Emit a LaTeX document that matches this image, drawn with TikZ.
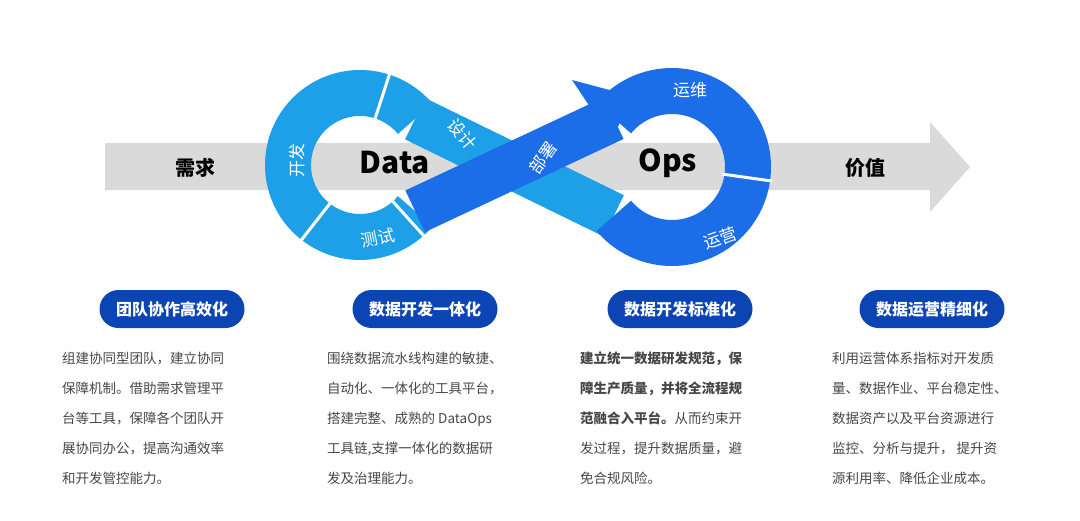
\documentclass[tikz,border=0pt]{standalone}
\usepackage{fontspec}
\setmainfont{Noto Sans CJK SC}
\usetikzlibrary{positioning}
\definecolor{lightring}{RGB}{30,160,232}
\definecolor{darkring}{RGB}{28,110,232}
\definecolor{pillblue}{RGB}{12,68,180}
\definecolor{bodygray}{RGB}{70,70,70}
\definecolor{bandgray}{RGB}{218,218,218}
\tikzset{%
	ring label/.style={text=white, font=\fontsize{17}{17}\selectfont},
	pill/.style={
		rounded corners=19pt,
		fill=pillblue,
		text=white,
		minimum width=145pt,
		minimum height=38pt,
		font=\fontsize{16}{16}\selectfont\bfseries
	},
	body text/.style={
		anchor=north west,
		align=left,
		text=bodygray,
		inner sep=0pt,
		font=\fontsize{13.5}{30}\selectfont
	},
	separator/.style={white, line width=3pt},
}
\begin{document}
\begin{tikzpicture}[x=1pt, y=-1pt]
			\useasboundingbox (0,0) rectangle (1080,520);
			
			% flow band
			\fill [bandgray] (105,143) -- (930,143) -- (930,122) -- (970,167)
			-- (930,212) -- (930,190) -- (105,190) -- cycle;
			\node [font=\fontsize{20}{20}\selectfont\bfseries] (need) at (195,168) {需求};
			\node [font=\fontsize{20}{20}\selectfont\bfseries] (value) at (865,168) {价值};
			
			% infinity loop (angles mirrored, y runs down)
			\coordinate (dc) at (360,165);
			\coordinate (oc) at (672,167);
			\draw [lightring, line width=46pt] ([shift={(-40:72)}]dc) -- ([shift={(140:76)}]oc);
			\draw [lightring, line width=46pt] ([shift={(-40:72)}]dc) arc [start angle=-40, end angle=-320, radius=72];
			\draw [darkring, line width=46pt] ([shift={(-140:76)}]oc) arc [start angle=-140, end angle=140, radius=76];
			\draw [darkring, line width=46pt] ([shift={(40:72)}]dc) -- ([shift={(-140:76)}]oc);
			\fill [darkring] (572,80) -- (632,96) -- (612,140) -- cycle;
			
			% segment gaps
			\foreach \a in {72,232,312}
			\draw [separator] ([shift={(-\a:47)}]dc) -- ([shift={(-\a:97)}]dc);
			\foreach \a in {-8}
			\draw [separator] ([shift={(-\a:51)}]oc) -- ([shift={(-\a:101)}]oc);
			
			\node [font=\fontsize{30}{30}\selectfont\bfseries] (data) at (395,163) {Data};
			\node [font=\fontsize{30}{30}\selectfont\bfseries] (ops) at (668,163) {Ops};
			
			\node [ring label, rotate=90] (dev) at (297,160) {开发};
			\node [ring label, rotate=-50] (design) at (462,134) {设计};
			\node [ring label, rotate=12] (test) at (378,238) {测试};
			\node [ring label, rotate=55] (deploy) at (543,158) {部署};
			\node [ring label] (maint) at (690,90) {运维};
			\node [ring label, rotate=20] (operate) at (720,238) {运营};
			
			% columns
			\foreach \t/\x [count=\i] in {团队协作高效化/172, 数据开发一体化/425, 数据开发标准化/680, 数据运营精细化/932}
			\node [pill] (head-\i) at (\x,309) {\t};
			
			\node [body text] (body-1) at (62,352) {组建协同型团队，建立协同\\保障机制。借助需求管理平\\台等工具，保障各个团队开\\展协同办公，提高沟通效率\\和开发管控能力。};
			\node [body text] (body-2) at (327,352) {围绕数据流水线构建的敏捷、\\自动化、一体化的工具平台，\\搭建完整、成熟的 DataOps\\工具链,支撑一体化的数据研\\发及治理能力。};
			\node [body text] (body-3) at (580,352) {\textbf{建立统一数据研发规范，保}\\\textbf{障生产质量，并将全流程规}\\\textbf{范融合入平台。}从而约束开\\发过程，提升数据质量，避\\免合规风险。};
			\node [body text] (body-4) at (832,352) {利用运营体系指标对开发质\\量、数据作业、平台稳定性、\\数据资产以及平台资源进行\\监控、分析与提升， 提升资\\源利用率、降低企业成本。};
			
		\end{tikzpicture}
\end{document}
